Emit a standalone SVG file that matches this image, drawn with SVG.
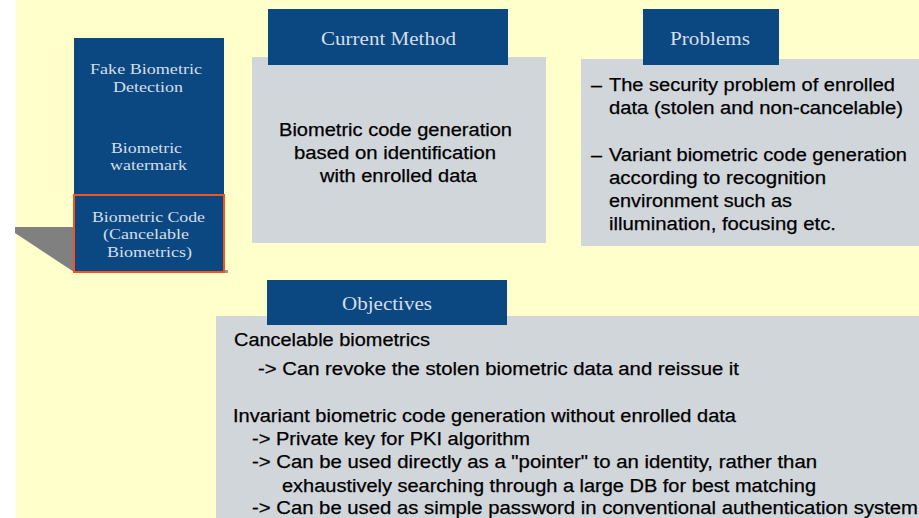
<svg xmlns="http://www.w3.org/2000/svg" width="919" height="518" viewBox="0 0 919 518">
<style>
.bg{fill:#FFFFCC}
.blue{fill:#0B4882}
.panel{fill:#D1D6DB}
.ttl{font-family:"Liberation Serif","DejaVu Serif",serif;font-size:18px;fill:#D6DEE8}
.side{font-family:"Liberation Serif","DejaVu Serif",serif;font-size:15.5px;fill:#D6DEE8}
.body{font-family:"Liberation Sans","Arial",sans-serif;font-size:18px;fill:#000;stroke:#000;stroke-width:0.25}
</style>
<rect x="0" y="0" width="919" height="518" fill="#FFFFFF"/>
<rect class="bg" x="16" y="0" width="903" height="518"/>

<g id="side-column">
  <polygon points="15,227 74,227 74,272 15,233" fill="#808080"/>
  <rect x="76" y="270" width="152" height="3" fill="#9A9A9A"/>
  <rect class="blue" x="74" y="38" width="150" height="234"/>
  <text class="side" x="90" y="74" textLength="112" lengthAdjust="spacingAndGlyphs">Fake Biometric</text>
  <text class="side" x="113" y="92" textLength="70" lengthAdjust="spacingAndGlyphs">Detection</text>
  <text class="side" x="111" y="153" textLength="71" lengthAdjust="spacingAndGlyphs">Biometric</text>
  <text class="side" x="110" y="170" textLength="77" lengthAdjust="spacingAndGlyphs">watermark</text>
</g>
<g id="biometric-code">
  <rect class="blue" x="74" y="195" width="150" height="77" stroke="#F0551E" stroke-width="2"/>
  <text class="side" x="92" y="222" textLength="113" lengthAdjust="spacingAndGlyphs">Biometric Code</text>
  <text class="side" x="103" y="239" textLength="86" lengthAdjust="spacingAndGlyphs">(Cancelable</text>
  <text class="side" x="107" y="257" textLength="85" lengthAdjust="spacingAndGlyphs">Biometrics)</text>
</g>

<g id="current-method">
  <rect class="panel" x="252" y="57" width="294" height="186"/>
  <rect class="blue" x="268" y="9" width="240" height="56"/>
  <text class="ttl" x="321" y="45" textLength="135" lengthAdjust="spacingAndGlyphs">Current Method</text>
  <text class="body" x="279" y="136" textLength="233" lengthAdjust="spacingAndGlyphs">Biometric code generation</text>
  <text class="body" x="294" y="159" textLength="202" lengthAdjust="spacingAndGlyphs">based on identification</text>
  <text class="body" x="320" y="182" textLength="157" lengthAdjust="spacingAndGlyphs">with enrolled data</text>
</g>

<g id="problems">
  <rect class="panel" x="581" y="59" width="338" height="187"/>
  <rect class="blue" x="643" y="9" width="136" height="56"/>
  <text class="ttl" x="670" y="45" textLength="80" lengthAdjust="spacingAndGlyphs">Problems</text>
  <text class="body" x="591" y="91" textLength="11" lengthAdjust="spacingAndGlyphs">–</text>
  <text class="body" x="609" y="91" textLength="286" lengthAdjust="spacingAndGlyphs">The security problem of enrolled</text>
  <text class="body" x="609" y="114" textLength="294" lengthAdjust="spacingAndGlyphs">data (stolen and non-cancelable)</text>
  <text class="body" x="591" y="161" textLength="11" lengthAdjust="spacingAndGlyphs">–</text>
  <text class="body" x="609" y="161" textLength="298" lengthAdjust="spacingAndGlyphs">Variant biometric code generation</text>
  <text class="body" x="609" y="184" textLength="217" lengthAdjust="spacingAndGlyphs">according to recognition</text>
  <text class="body" x="609" y="207" textLength="183" lengthAdjust="spacingAndGlyphs">environment such as</text>
  <text class="body" x="609" y="230" textLength="227" lengthAdjust="spacingAndGlyphs">illumination, focusing etc.</text>
</g>

<g id="objectives">
  <rect class="panel" x="216" y="316" width="703" height="202"/>
  <rect class="blue" x="267" y="280" width="240" height="45"/>
  <text class="ttl" x="342" y="310" textLength="90" lengthAdjust="spacingAndGlyphs">Objectives</text>
  <text class="body" x="234" y="346" textLength="196" lengthAdjust="spacingAndGlyphs">Cancelable biometrics</text>
  <text class="body" x="258" y="375" textLength="481" lengthAdjust="spacingAndGlyphs">-&gt; Can revoke the stolen biometric data and reissue it</text>
  <text class="body" x="233" y="422" textLength="503" lengthAdjust="spacingAndGlyphs">Invariant biometric code generation without enrolled data</text>
  <text class="body" x="252" y="445" textLength="278" lengthAdjust="spacingAndGlyphs">-&gt; Private key for PKI algorithm</text>
  <text class="body" x="252" y="468" textLength="565" lengthAdjust="spacingAndGlyphs">-&gt; Can be used directly as a "pointer" to an identity, rather than</text>
  <text class="body" x="282" y="492" textLength="534" lengthAdjust="spacingAndGlyphs">exhaustively searching through a large DB for best matching</text>
  <text class="body" x="252" y="514" textLength="666" lengthAdjust="spacingAndGlyphs">-&gt; Can be used as simple password in conventional authentication system</text>
</g>
</svg>
